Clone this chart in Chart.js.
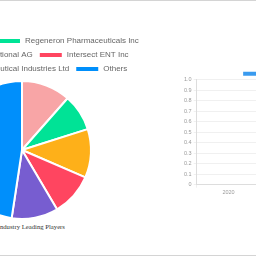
<!DOCTYPE html>
<html>
<head>
<meta charset="utf-8">
<script src="https://cdn.jsdelivr.net/npm/chart.js@4.4.0/dist/chart.umd.min.js"></script>
<style>
  html, body { margin: 0; padding: 0; background: #fff; }
  #page { position: relative; width: 256px; height: 256px; overflow: hidden;
          border-top: 1px solid #d4d4d4; border-bottom: 1px solid #d4d4d4; box-sizing: border-box; }
  #pieBox { position: absolute; left: -128px; top: 30px; width: 300px; height: 189px; }
  #pieCaption { position: absolute; left: -2.3px; top: 222px; white-space: nowrap;
                font: 6.7px/8px 'Liberation Serif', 'Times New Roman', serif; color: #333; }
  #barBox { position: absolute; left: 182px; top: 66.75px; width: 206px; height: 128.3px; }
</style>
</head>
<body>
<div id="page">
  <div id="pieBox"><canvas id="pieChart"></canvas></div>
  <div id="pieCaption">Industry Leading Players</div>
  <div id="barBox"><canvas id="barChart"></canvas></div>
</div>
<script>
// pie: leading players share (%)
const companies = ['AstraZeneca plc', 'Regeneron Pharmaceuticals Inc', 'Novartis International AG',
                   'Intersect ENT Inc', 'Teva Pharmaceutical Industries Ltd', 'Others'];
const shares = [11.5, 8.6, 11.4, 10.0, 10.9, 47.6];
const sliceColors = ['#F8A5A6', '#00E396', '#FEB019', '#FF4560', '#775DD0', '#008FFB'];

// bar: market by year (no values shown)
const years = ['2020', '2021', '2022'];
const marketValues = [null, null, null];

Chart.defaults.font.family = "'Liberation Sans', Arial, sans-serif";

var pieChart = new Chart(document.getElementById('pieChart').getContext('2d'), {
  type: 'pie',
  data: {
    labels: companies,
    datasets: [{
      data: shares,
      backgroundColor: sliceColors,
      borderColor: '#fff',
      borderWidth: 2
    }]
  },
  options: {
    responsive: true,
    maintainAspectRatio: false,
    animation: false,
    plugins: {
      legend: {
        position: 'top',
        maxHeight: 49,
        labels: { boxWidth: 24, boxHeight: 6, padding: 6, color: '#666', font: { size: 8 } }
      },
      tooltip: { enabled: false }
    }
  }
});

var barChart = new Chart(document.getElementById('barChart').getContext('2d'), {
  type: 'bar',
  data: {
    labels: years,
    datasets: [{
      label: 'Market Size (USD Million)',
      data: marketValues,
      backgroundColor: '#3A9BEF',
      borderColor: '#3A9BEF'
    }]
  },
  options: {
    responsive: true,
    maintainAspectRatio: false,
    animation: false,
    plugins: {
      legend: {
        position: 'top',
        maxHeight: 11.7,
        labels: { boxWidth: 18, boxHeight: 4, padding: 3, color: '#999', font: { size: 5.5 } }
      },
      tooltip: { enabled: false }
    },
    scales: {
      x: {
        grid: { color: 'rgba(0,0,0,0.06)', tickLength: 3 },
        border: { color: '#ddd' },
        ticks: { color: '#999', padding: 1, font: { size: 5.5 } }
      },
      y: {
        min: 0,
        max: 1,
        grid: { color: 'rgba(0,0,0,0.06)', tickLength: 3 },
        border: { color: '#ddd' },
        ticks: { stepSize: 0.1, color: '#999', padding: 2, font: { size: 5.5 } }
      }
    }
  }
});
</script>
</body>
</html>
